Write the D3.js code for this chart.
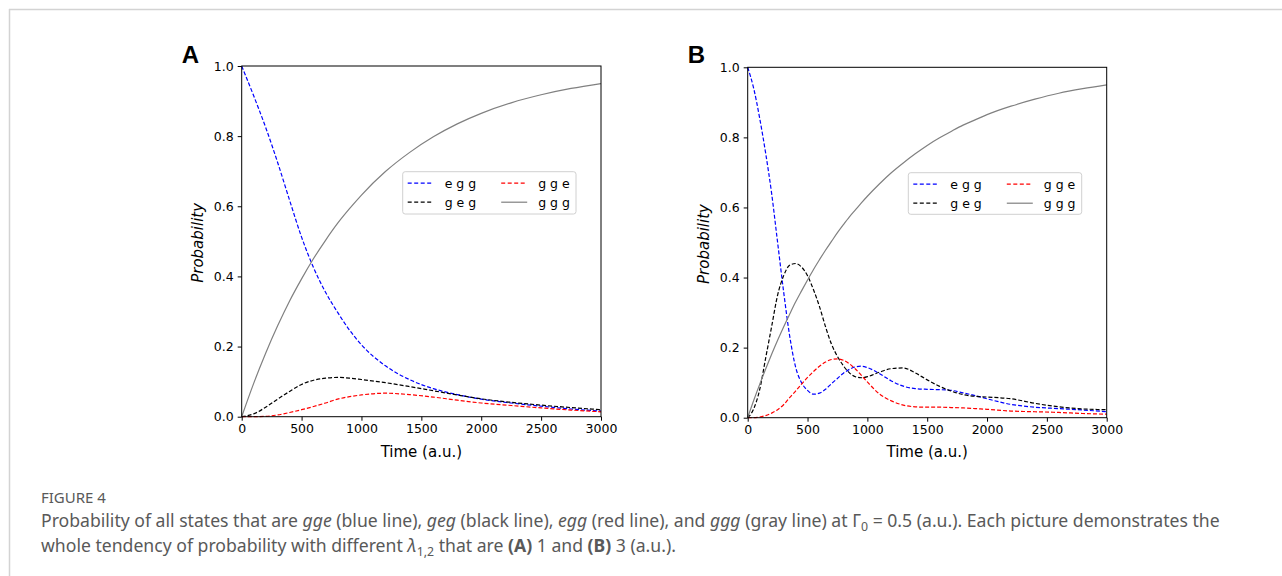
<!DOCTYPE html>
<html>
<head>
<meta charset="utf-8">
<script src="https://cdn.jsdelivr.net/npm/d3@7"></script>
<style>
  html, body { margin: 0; padding: 0; background: #ffffff; }
  svg { display: block; }
</style>
</head>
<body>
<svg id="chart" width="1282" height="576"></svg>
<script>
// ---------------- DATA ----------------
const seriesNames = ["e g g", "g e g", "g g e", "g g g"];
const seriesKeys = ["egg", "geg", "gge", "ggg"];
const xTicks = [0, 500, 1000, 1500, 2000, 2500, 3000];
const yTicks = [0.0, 0.2, 0.4, 0.6, 0.8, 1.0];

// Panel A (lambda = 1)
const timeA = [0, 100, 200, 300, 400, 500, 600, 700, 800, 900, 1000, 1200, 1400, 1600, 1800, 2000, 2250, 2500, 2750, 3000];
const eggA  = [1.0, 0.915, 0.825, 0.725, 0.617, 0.512, 0.425, 0.355, 0.298, 0.247, 0.205, 0.145, 0.106, 0.08, 0.063, 0.05, 0.039, 0.03, 0.022, 0.016];
const gegA  = [0.0, 0.008, 0.027, 0.05, 0.072, 0.092, 0.104, 0.11, 0.112, 0.11, 0.106, 0.097, 0.086, 0.074, 0.062, 0.051, 0.041, 0.033, 0.026, 0.02];
const ggeA  = [0.0, 0.0, 0.001, 0.005, 0.012, 0.02, 0.029, 0.039, 0.05, 0.057, 0.062, 0.067, 0.063, 0.056, 0.047, 0.039, 0.032, 0.025, 0.019, 0.014];
const gggA  = [0.0, 0.095, 0.181, 0.259, 0.33, 0.393, 0.451, 0.503, 0.551, 0.593, 0.632, 0.699, 0.753, 0.798, 0.835, 0.865, 0.895, 0.918, 0.936, 0.95];

// Panel B (lambda = 3)
const timeB = [0, 50, 100, 150, 200, 250, 300, 350, 400, 450, 500, 550, 600, 650, 700, 750, 800, 850, 900, 950, 1000, 1100, 1200, 1300, 1400, 1500, 1600, 1700, 1800, 1900, 2000, 2200, 2400, 2600, 2800, 3000];
const eggB  = [1.0, 0.94, 0.855, 0.755, 0.64, 0.5, 0.36, 0.235, 0.145, 0.1, 0.078, 0.067, 0.07, 0.081, 0.097, 0.112, 0.127, 0.138, 0.145, 0.147, 0.143, 0.126, 0.105, 0.09, 0.083, 0.081, 0.08, 0.078, 0.071, 0.063, 0.054, 0.038, 0.03, 0.026, 0.022, 0.017];
const gegB  = [0.0, 0.025, 0.08, 0.17, 0.26, 0.35, 0.405, 0.435, 0.44, 0.43, 0.405, 0.365, 0.317, 0.26, 0.21, 0.175, 0.148, 0.128, 0.117, 0.114, 0.117, 0.13, 0.14, 0.142, 0.128, 0.108, 0.09, 0.076, 0.066, 0.061, 0.059, 0.054, 0.041, 0.031, 0.025, 0.023];
const ggeB  = [0.0, 0.0, 0.002, 0.006, 0.013, 0.023, 0.037, 0.057, 0.076, 0.096, 0.115, 0.132, 0.147, 0.159, 0.166, 0.168, 0.164, 0.154, 0.139, 0.121, 0.102, 0.068, 0.048, 0.036, 0.031, 0.03, 0.03, 0.029, 0.028, 0.026, 0.024, 0.019, 0.017, 0.015, 0.012, 0.01];
const gggB  = [0.0, 0.049, 0.095, 0.139, 0.181, 0.221, 0.259, 0.295, 0.33, 0.362, 0.393, 0.423, 0.451, 0.478, 0.503, 0.528, 0.551, 0.573, 0.593, 0.613, 0.632, 0.667, 0.699, 0.727, 0.753, 0.777, 0.798, 0.817, 0.835, 0.85, 0.865, 0.889, 0.909, 0.926, 0.939, 0.95];

// ---------------- STYLE ----------------
const seriesColors = { egg: "#0000ff", geg: "#000000", gge: "#ff0000", ggg: "#808080" };
const seriesDash = { egg: "4,2", geg: "4,2", gge: "4,2", ggg: null };

const panels = [
  { label: "A", time: timeA, data: { egg: eggA, geg: gegA, gge: ggeA, ggg: gggA },
    x0: 241.7, x1: 601, y0: 416.7, y1: 66, legend: { x: 402.7, y: 171.7, w: 173.3, h: 42.3 } },
  { label: "B", time: timeB, data: { egg: eggB, geg: gegB, gge: ggeB, ggg: gggB },
    x0: 747.7, x1: 1106.7, y0: 417.7, y1: 67.3, legend: { x: 908.3, y: 172.7, w: 173.4, h: 41.6 } }
];

const svg = d3.select("#chart");

// outer frame
svg.append("line").attr("x1", 9).attr("x2", 1282).attr("y1", 9.5).attr("y2", 9.5)
  .attr("stroke", "#d3d3d3").attr("stroke-width", 1.5);
svg.append("line").attr("x1", 9.5).attr("x2", 9.5).attr("y1", 9).attr("y2", 576)
  .attr("stroke", "#d3d3d3").attr("stroke-width", 1.5);

const tickFont = "DejaVu Sans, sans-serif";

panels.forEach(p => {
  const x = d3.scaleLinear().domain([0, 3000]).range([p.x0, p.x1]);
  const y = d3.scaleLinear().domain([0, 1]).range([p.y0, p.y1]);
  const g = svg.append("g");

  const order = ["egg", "geg", "gge", "ggg"];
  order.forEach(k => {
    const vals = p.data[k];
    const line = d3.line()
      .x((d, i) => x(p.time[i]))
      .y(d => y(d))
      .curve(d3.curveMonotoneX);
    const path = g.append("path")
      .datum(vals)
      .attr("d", line)
      .attr("fill", "none")
      .attr("stroke", seriesColors[k])
      .attr("stroke-width", 1.2);
    if (seriesDash[k]) path.attr("stroke-dasharray", seriesDash[k]);
  });

  const xAxis = d3.axisBottom(x).tickValues(xTicks).tickSizeOuter(0).tickSize(4).tickPadding(3)
    .tickFormat(d3.format("d"));
  const yAxis = d3.axisLeft(y).tickValues(yTicks).tickSizeOuter(0).tickSize(4).tickPadding(4)
    .tickFormat(d3.format(".1f"));
  const gx = g.append("g").attr("transform", `translate(0,${p.y0})`).call(xAxis);
  const gy = g.append("g").attr("transform", `translate(${p.x0},0)`).call(yAxis);
  [gx, gy].forEach(a => {
    a.select(".domain").remove();
    a.selectAll("line").attr("stroke", "#000").attr("stroke-width", 1);
    a.selectAll("text").attr("font-family", tickFont).attr("font-size", 12.5).attr("fill", "#000");
  });

  g.append("rect")
    .attr("x", p.x0).attr("y", p.y1)
    .attr("width", p.x1 - p.x0).attr("height", p.y0 - p.y1)
    .attr("fill", "none").attr("stroke", "#000").attr("stroke-width", 1);

  g.append("text")
    .attr("x", (p.x0 + p.x1) / 2).attr("y", 457)
    .attr("text-anchor", "middle")
    .attr("font-family", tickFont).attr("font-size", 15).attr("fill", "#000")
    .text("Time (a.u.)");
  const ly = (p.y0 + p.y1) / 2 + 1.5;
  const lx = p.x0 - 39;
  g.append("text")
    .attr("transform", `translate(${lx},${ly}) rotate(-90)`)
    .attr("text-anchor", "middle")
    .attr("font-family", tickFont).attr("font-size", 15).attr("font-style", "italic").attr("fill", "#000")
    .text("Probability");

  g.append("text")
    .attr("x", p.x0 - 60).attr("y", 62.5)
    .attr("font-family", "Liberation Sans, Arial, sans-serif").attr("font-weight", "bold")
    .attr("font-size", 24).attr("fill", "#000")
    .text(p.label);

  const L = p.legend;
  const lg = g.append("g");
  lg.append("rect").attr("x", L.x).attr("y", L.y).attr("width", L.w).attr("height", L.h)
    .attr("rx", 2.5).attr("fill", "#ffffff").attr("fill-opacity", 0.85)
    .attr("stroke", "#d0d0d0").attr("stroke-width", 1);
  const legendItems = [
    { k: "egg", col: 0, row: 0 }, { k: "geg", col: 0, row: 1 },
    { k: "gge", col: 1, row: 0 }, { k: "ggg", col: 1, row: 1 }
  ];
  legendItems.forEach(it => {
    const hx = L.x + 5 + it.col * 93.5;
    const hy = L.y + 11.5 + it.row * 19;
    const ln = lg.append("line").attr("x1", hx).attr("x2", hx + 26).attr("y1", hy).attr("y2", hy)
      .attr("stroke", seriesColors[it.k]).attr("stroke-width", 1.2);
    if (seriesDash[it.k]) ln.attr("stroke-dasharray", "4,2.5");
    lg.append("text").attr("x", hx + 37).attr("y", hy + 4.5)
      .attr("font-family", tickFont).attr("font-size", 12.5).attr("fill", "#000")
      .text(seriesNames[seriesKeys.indexOf(it.k)]);
  });
});

// ---------------- CAPTION ----------------
const capFont = "'Noto Sans', 'Open Sans', sans-serif";
const capColor = "#595959";
svg.append("text").attr("x", 41).attr("y", 503)
  .attr("font-family", capFont).attr("font-size", 15).attr("fill", capColor)
  .text("FIGURE 4");

const line1 = [
  { t: "Probability of all states that are " },
  { t: "gge", i: true }, { t: " (blue line), " },
  { t: "geg", i: true }, { t: " (black line), " },
  { t: "egg", i: true }, { t: " (red line), and " },
  { t: "ggg", i: true }, { t: " (gray line) at Γ" },
  { t: "0", sub: true }, { t: " = 0.5 (a.u.). Each picture demonstrates the", after: true }
];
const line2 = [
  { t: "whole tendency of probability with different " },
  { t: "λ", i: true }, { t: "1,2", sub: true },
  { t: " that are ", after: true }, { t: "(A)", b: true }, { t: " 1 and " },
  { t: "(B)", b: true }, { t: " 3 (a.u.)." }
];
const capSize = 15.5 * 1179 / 1037;
function captionLine(parts, yPos) {
  const t = svg.append("text").attr("x", 41).attr("y", yPos)
    .attr("font-family", capFont).attr("font-size", capSize).attr("fill", capColor);
  parts.forEach(pt => {
    const s = t.append("tspan").text(pt.t);
    if (pt.i) s.attr("font-style", "italic");
    if (pt.b) s.attr("font-weight", "bold");
    if (pt.sub) s.attr("dy", 4).attr("font-size", capSize * 0.7);
    if (pt.after) s.attr("dy", -4);
  });
  return t;
}
captionLine(line1, 527);
captionLine(line2, 552);
</script>
</body>
</html>
